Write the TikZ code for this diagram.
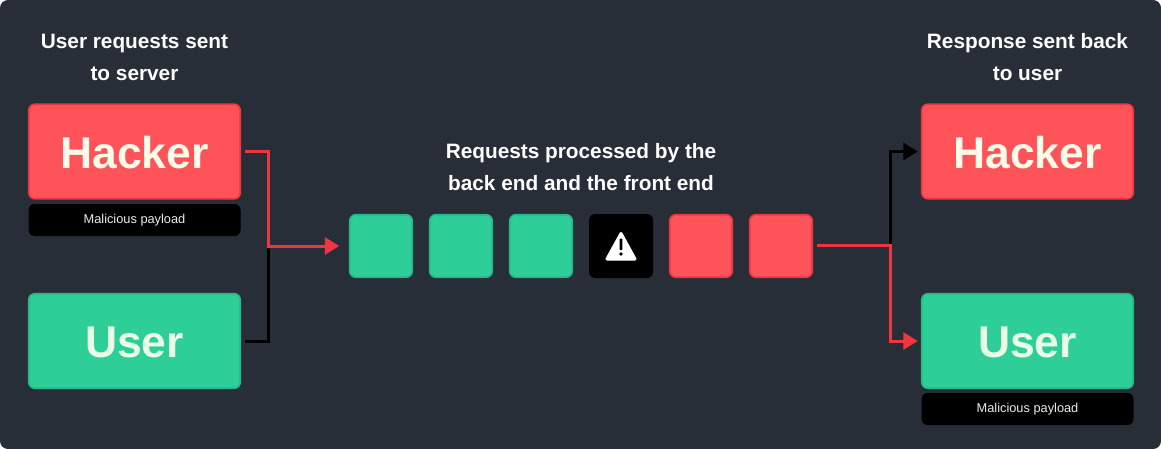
\documentclass[tikz,border=0pt]{standalone}
\usepackage{fontspec}
\setmainfont{Liberation Sans}
\usetikzlibrary{arrows.meta}
\definecolor{panelbg}{HTML}{282E37}
\definecolor{hackred}{HTML}{FD5359}
\definecolor{hackedge}{HTML}{EE3640}
\definecolor{usergreen}{HTML}{2DCE98}
\definecolor{useredge}{HTML}{27B885}
\definecolor{hacktext}{HTML}{FFFBE8}
\definecolor{usertext}{HTML}{EBFCE6}
\tikzset{
  party/.style={rounded corners=6pt, line width=1.6pt, minimum width=211.5pt, minimum height=94.5pt, text height=33pt, text depth=0pt, inner sep=0pt, outer sep=0pt, font=\fontsize{44.5}{44.5}\selectfont\bfseries},
  hackbox/.style={party, fill=hackred, draw=hackedge, text=hacktext},
  userbox/.style={party, fill=usergreen, draw=useredge, text=usertext},
  payload/.style={rounded corners=6pt, fill=black, text=white!92!black, minimum width=212pt, minimum height=32pt, inner sep=0pt, outer sep=0pt, font=\fontsize{12.8}{12.8}\selectfont},
  heading/.style={text=white, align=center, inner sep=0pt, font=\fontsize{20.8}{32}\selectfont\bfseries},
  cell/.style={rounded corners=6pt, line width=1.6pt, minimum size=62.5pt, inner sep=0pt, outer sep=0pt},
  goodcell/.style={cell, fill=usergreen, draw=useredge},
  badcell/.style={cell, fill=hackred, draw=hackedge},
  warncell/.style={cell, fill=black, minimum size=64pt},
  redlink/.style={draw=hackedge, line width=3pt, -{Triangle[length=14.5pt, width=17pt]}},
  blacklink/.style={draw=black, line width=3pt, -{Triangle[length=14.5pt, width=17pt]}}
}
\begin{document}
\begin{tikzpicture}[x=1pt, y=-1pt]
\useasboundingbox (0,0) rectangle (1161,449);
\fill[panelbg, rounded corners=8pt] (0,0) rectangle (1161,449);

% left side
\node[heading] (senthead) at (134.5,57) {User requests sent\\to server};
\node[hackbox] (hackerL) at (134.5,151.5) {Hacker};
\node[payload] (payloadL) at (134.5,220) {Malicious payload};
\node[userbox] (userL) at (134.5,341) {User};

% middle row
\node[heading] (midhead) at (581,167) {Requests processed by the\\back end and the front end};
\node[goodcell] (cell1) at (381,246) {};
\node[goodcell] (cell2) at (461,246) {};
\node[goodcell] (cell3) at (541,246) {};
\node[warncell] (cell4) at (621,246) {};
\node[badcell] (cell5) at (701,246) {};
\node[badcell] (cell6) at (781,246) {};

% warning sign
\fill[white, draw=white, line width=3pt, line join=round] (621,233.5) -- (635,259) -- (607,259) -- cycle;
\fill[black, rounded corners=0.8pt] (619.6,238.5) rectangle (622.4,250);
\fill[black] (621,254) circle (1.8);

% right side
\node[heading] (backhead) at (1027.5,57) {Response sent back\\to user};
\node[hackbox] (hackerR) at (1027.5,151.5) {Hacker};
\node[userbox] (userR) at (1027.5,341) {User};
\node[payload] (payloadR) at (1027.5,409) {Malicious payload};

% connectors
\coordinate (joinL) at (268,246);
\coordinate (joinR) at (890,245);
\draw[draw=black, line width=3pt, shorten <=5pt] (userL.east) -| (joinL);
\draw[redlink, shorten <=5pt, shorten >=10.5pt] (hackerL.east) -| (joinL) -- (cell1.west);
\draw[blacklink, shorten >=4pt] (joinR) |- (hackerR.west);
\draw[redlink, shorten <=5pt, shorten >=4pt] ([yshift=1pt]cell6.east) -- (joinR) |- (userR.west);
\end{tikzpicture}
\end{document}
